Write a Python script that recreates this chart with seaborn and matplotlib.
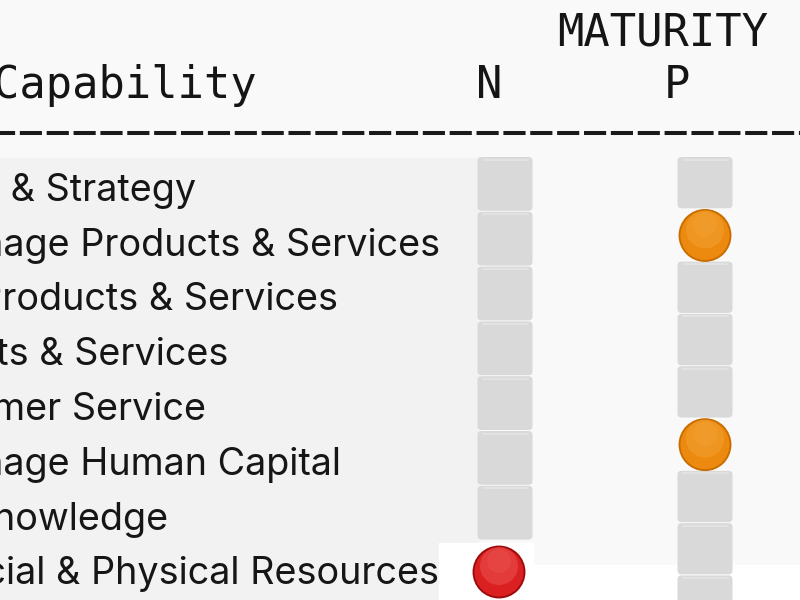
import numpy as np
import pandas as pd
import seaborn as sns
import matplotlib.pyplot as plt
from matplotlib.patches import FancyBboxPatch, Rectangle

# rows of the capability table (the screen is scrolled, so the left part and the last row are cut)
capabilities = [
    "Develop Vision & Strategy",
    "Develop & Manage Products & Services",
    "Market & Sell Products & Services",
    "Deliver Products & Services",
    "Manage Customer Service",
    "Develop & Manage Human Capital",
    "Manage IT & Knowledge",
    "Manage Financial & Physical Resources",
    "Manage Enterprise Risk",
]
maturity_n = ["none", "none", "none", "none", "none", "none", "none", "red", "none"]
maturity_p = ["none", "orange", "none", "none", "none", "orange", "none", "none", "none"]
columns = ["N", "P"]

# layout (pixels, the axes is the whole screen)
ROW_TOP = 157
ROW_PITCH = 54.8
PITCH = {"N": 54.8, "P": 52.3}
COL_X = {"N": 505, "P": 705}
HEAD_X = {"N": 489, "P": 677}
TILE_W = 55
LABEL_X = -267

sns.set_theme(style="white")
plt.rcParams["font.family"] = ["Inter", "DejaVu Sans"]

fig = plt.figure(figsize=(8, 6), dpi=100, facecolor="#f9f9f9")
ax = fig.add_axes([0, 0, 1, 1])
ax.set_facecolor("#f9f9f9")
ax.set_xlim(0, 800)
ax.set_ylim(600, 0)
ax.axis("off")

# cell backgrounds
ax.add_patch(Rectangle((0, 158), 478, 385, color="#f2f2f2", zorder=0))
ax.add_patch(Rectangle((0, 543), 439, 57, color="#f2f2f2", zorder=0))
ax.add_patch(Rectangle((439, 543), 94, 57, color="white", zorder=3.5))
ax.add_patch(Rectangle((533, 565), 267, 35, color="white", zorder=0))

# header
mono = "DejaVu Sans Mono"
ax.text(-7, 98, "Capability", family=mono, fontsize=31.5, color="#151515", va="baseline")
ax.text(557, 46, "MATURITY", family=mono, fontsize=31.5, color="#151515", va="baseline")
for c in columns:
    ax.text(HEAD_X[c], 98, c, family=mono, fontsize=31.5, color="#151515",
            va="baseline", ha="center")
ax.plot([0, 800], [133, 133], color="#1a1a1a", lw=2.9,
        ls=(1.75, (5.5, 1.17)), solid_capstyle="butt", dash_capstyle="butt")

# capability labels
for i, lab in enumerate(capabilities):
    ax.text(LABEL_X, ROW_TOP + (i + 0.5) * ROW_PITCH + 16.5, lab, fontsize=27.2,
            color="#161616", va="baseline", clip_on=False, zorder=4)

# grey tiles for empty cells, dots for the rated ones
rows = []
for c, statuses in zip(columns, [maturity_n, maturity_p]):
    for i, s in enumerate(statuses):
        top = ROW_TOP + i * PITCH[c]
        if s == "none":
            r = 4
            ax.add_patch(FancyBboxPatch((COL_X[c] - TILE_W / 2 + r, top + r),
                                        TILE_W - 2 * r, PITCH[c] - 2 * r - 1,
                                        boxstyle=f"round,pad={r}", fc="#d9d9d9",
                                        ec="none", zorder=2))
            ax.plot([COL_X[c] - TILE_W / 2 + 5, COL_X[c] + TILE_W / 2 - 5],
                    [top + 2.5, top + 2.5], color="#e4e4e4", lw=1.2, zorder=3)
        else:
            rows.append({"col": c, "x": COL_X[c] - (6 if c == "N" else 0),
                         "y": top + 0.5 * PITCH[c] + (4 if c == "N" else 0),
                         "status": s})
dots = pd.DataFrame(rows)

edge = {"orange": "#c96c00", "red": "#9c0b0b"}
face = {"orange": "#eb8a0e", "red": "#da2020"}
light = {"orange": "#f5a63c", "red": "#ee5a5a"}
sns.scatterplot(data=dots, x="x", y="y", hue="status", palette=edge, s=1450,
                linewidth=0, legend=False, ax=ax, zorder=5)
sns.scatterplot(data=dots, x="x", y="y", hue="status", palette=face, s=1250,
                linewidth=0, legend=False, ax=ax, zorder=6)
sns.scatterplot(data=dots.assign(y=dots["y"] - 6), x="x", y="y", hue="status",
                palette=light, s=750, linewidth=0, alpha=0.45, legend=False,
                ax=ax, zorder=7)
sns.scatterplot(data=dots.assign(y=dots["y"] - 11), x="x", y="y", hue="status",
                palette=light, s=300, linewidth=0, alpha=0.3, legend=False,
                ax=ax, zorder=8)
ax.set_xlim(0, 800)
ax.set_ylim(600, 0)
ax.axis("off")

fig.savefig("out.png", dpi=100, facecolor=fig.get_facecolor())
